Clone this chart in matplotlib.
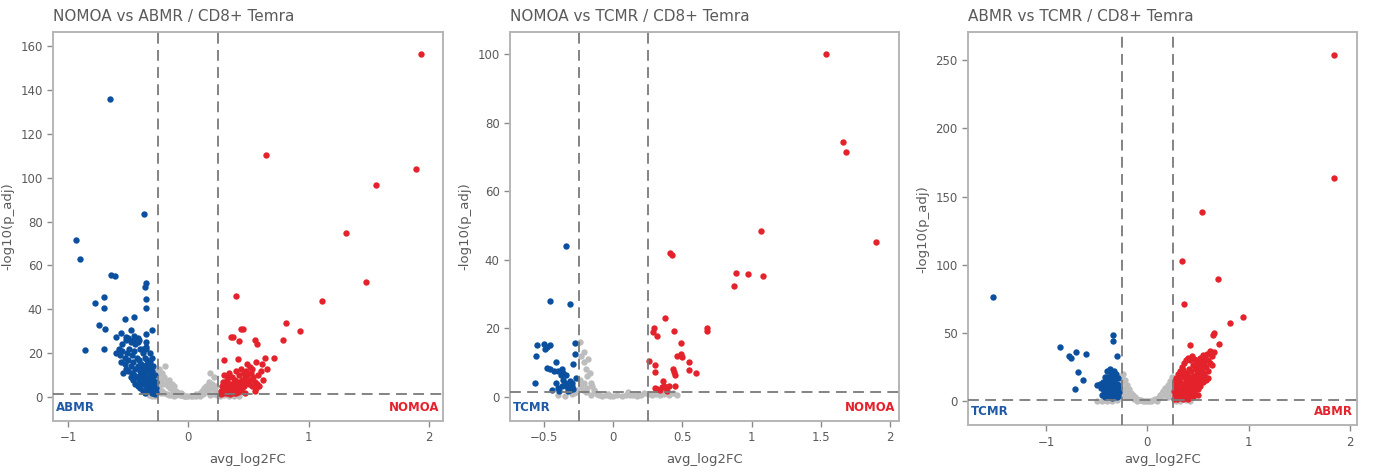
import matplotlib
matplotlib.use("Agg")
import matplotlib.pyplot as plt
from matplotlib.ticker import FuncFormatter

#====================================================================================================
# (avg_log2FC, -log10(p_adj)) per gene, split by group

# NOMOA vs ABMR
abmr_down = [(-0.65, 136), (-0.37, 83.4), (-0.93, 71.6), (-0.90, 63), (-0.64, 55.5), (-0.61, 55),
             (-0.78, 42.7), (-0.70, 45.7), (-0.70, 40.5), (-0.74, 33), (-0.69, 31), (-0.86, 21.5),
             (-0.70, 22), (-0.35, 52), (-0.36, 50.3), (-0.35, 44.8), (-0.35, 40.4), (-0.35, 28.9),
             (-0.30, 30.5), (-0.45, 36.6), (-0.53, 35.6), (-0.56, 29), (-0.60, 27.5), (-0.48, 30.5),
             (-0.52, 27.5), (-0.44, 27), (-0.41, 26), (-0.35, 25), (-0.30, 18), (-0.35, 23),
             (-0.58, 22), (-0.55, 24), (-0.52, 26), (-0.50, 27), (-0.48, 25), (-0.46, 26), (-0.44, 24),
             (-0.42, 25), (-0.40, 22), (-0.38, 20), (-0.36, 18), (-0.34, 17), (-0.32, 16), (-0.60, 20),
             (-0.57, 19), (-0.55, 21), (-0.53, 18), (-0.51, 20), (-0.49, 22), (-0.47, 19), (-0.45, 21),
             (-0.43, 18), (-0.41, 17), (-0.39, 15), (-0.37, 14), (-0.35, 13), (-0.33, 12), (-0.31, 11),
             (-0.29, 10), (-0.56, 16), (-0.53, 15), (-0.50, 17), (-0.48, 14), (-0.46, 16), (-0.44, 13),
             (-0.42, 14), (-0.40, 12), (-0.38, 11), (-0.36, 10), (-0.34, 9), (-0.32, 8), (-0.30, 7),
             (-0.28, 6), (-0.27, 4), (-0.50, 12), (-0.47, 11), (-0.45, 10), (-0.43, 9), (-0.41, 8),
             (-0.39, 7), (-0.37, 6), (-0.35, 5), (-0.33, 4), (-0.31, 3), (-0.29, 2), (-0.28, 1.5),
             (-0.44, 6), (-0.42, 5), (-0.40, 4), (-0.38, 3), (-0.36, 2), (-0.34, 3), (-0.32, 5),
             (-0.30, 4), (-0.28, 3), (-0.46, 8), (-0.48, 9), (-0.52, 13), (-0.54, 11), (-0.40, 10),
             (-0.36, 8), (-0.33, 7), (-0.31, 6), (-0.29, 8), (-0.27, 7), (-0.28, 10), (-0.30, 12),
             (-0.32, 14), (-0.34, 15), (-0.29, 14), (-0.31, 9), (-0.45, 28), (-0.42, 27), (-0.38, 22),
             (-0.32, 20), (-0.35, 22), (-0.27, 2.5), (-0.30, 1.8), (-0.39, 13), (-0.37, 9)]
abmr_up = [(1.93, 156.2), (1.89, 103.8), (0.647, 110.2), (1.558, 96.9), (1.314, 75), (1.475, 52.6),
           (1.108, 43.9), (0.392, 46), (0.815, 33.7), (0.925, 30.2), (0.44, 31), (0.455, 31),
           (0.79, 26), (0.355, 27.5), (0.37, 27.5), (0.42, 25.5), (0.555, 26), (0.57, 24),
           (0.30, 17), (0.41, 17.5), (0.64, 18), (0.71, 18), (0.65, 12.7), (0.61, 15.3), (0.56, 16),
           (0.49, 15), (0.51, 13.5), (0.27, 3), (0.28, 5), (0.29, 2), (0.30, 4), (0.31, 6), (0.32, 3),
           (0.33, 2), (0.34, 5), (0.35, 4), (0.36, 3), (0.37, 6), (0.38, 2), (0.39, 4), (0.40, 5),
           (0.41, 3), (0.42, 7), (0.43, 4), (0.44, 6), (0.45, 8), (0.46, 5), (0.47, 9), (0.48, 7),
           (0.49, 10), (0.50, 6), (0.51, 8), (0.52, 11), (0.53, 5), (0.54, 9), (0.55, 7), (0.56, 4),
           (0.57, 6), (0.58, 10), (0.30, 10), (0.32, 8), (0.34, 11), (0.36, 9), (0.38, 7), (0.40, 12),
           (0.42, 10), (0.44, 13), (0.46, 11), (0.48, 12), (0.53, 13), (0.29, 7), (0.33, 9),
           (0.35, 6), (0.37, 3.5), (0.39, 8), (0.41, 2.5), (0.43, 3), (0.45, 4), (0.47, 2),
           (0.27, 1.5), (0.31, 1.8), (0.35, 1.6), (0.40, 1.7), (0.55, 3), (0.59, 5), (0.62, 8),
           (0.60, 12)]
abmr_ns = [(-0.26, 12), (-0.25, 10), (-0.24, 13), (-0.23, 8), (-0.22, 11), (-0.21, 6), (-0.20, 9),
           (-0.19, 14), (-0.18, 7), (-0.17, 5), (-0.16, 8), (-0.15, 4), (-0.14, 6), (-0.13, 3),
           (-0.12, 5), (-0.11, 2), (-0.10, 3), (-0.09, 1.5), (-0.08, 2), (-0.07, 1), (-0.06, 0.8),
           (-0.05, 1.2), (-0.04, 0.5), (-0.03, 0.6), (-0.02, 0.3), (0.0, 0.4), (0.02, 0.5),
           (0.04, 0.3), (0.06, 0.7), (0.08, 1), (0.10, 2), (0.11, 3), (0.12, 1.5), (0.13, 4),
           (0.14, 2.5), (0.15, 5), (0.16, 3), (0.17, 7), (0.18, 11), (0.19, 4), (0.20, 6), (0.21, 9),
           (0.22, 3), (0.23, 5), (0.24, 2), (-0.24, 4), (-0.22, 3), (-0.20, 2), (-0.18, 1.5),
           (-0.16, 1), (-0.14, 0.8), (-0.12, 0.6), (-0.25, 6), (-0.23, 2), (0.26, 0.5), (0.30, 0.8),
           (0.34, 0.4), (0.38, 0.6), (0.42, 0.3), (-0.30, 0.5), (-0.33, 0.8), (-0.28, 0.3),
           (0.18, 1), (0.21, 1.5), (0.24, 0.8), (-0.06, 2), (0.06, 1.5), (0.10, 0.5), (-0.10, 0.8)]

# NOMOA vs TCMR
tcmr_down = [(-0.339, 44), (-0.455, 27.9), (-0.315, 27.2), (-0.274, 15.7), (-0.274, 12.6),
             (-0.55, 15), (-0.50, 15.5), (-0.48, 14.5), (-0.46, 15), (-0.49, 13.8), (-0.557, 11.9),
             (-0.565, 4), (-0.48, 8.5), (-0.46, 8), (-0.41, 10), (-0.40, 7.5), (-0.37, 8), (-0.36, 7),
             (-0.34, 6.3), (-0.38, 6.3), (-0.43, 7.5), (-0.29, 9.6), (-0.41, 4), (-0.44, 2),
             (-0.39, 1.6), (-0.37, 3), (-0.35, 4), (-0.34, 3), (-0.33, 2.5), (-0.32, 3.5), (-0.31, 4.5),
             (-0.30, 3), (-0.29, 2.2), (-0.30, 4), (-0.33, 1.8), (-0.27, 5.5), (-0.36, 5),
             (-0.40, 2.5), (-0.31, 2)]
tcmr_up = [(1.535, 100), (1.658, 74.3), (1.682, 71.6), (1.899, 45.3), (1.066, 48.4), (0.888, 36.2),
           (0.972, 35.8), (1.085, 35.3), (0.876, 32.3), (0.41, 42), (0.425, 41.5), (0.371, 22.9),
           (0.298, 20), (0.284, 18.8), (0.32, 17.8), (0.438, 19.3), (0.681, 20), (0.681, 19.2),
           (0.491, 15.8), (0.46, 12), (0.49, 12.4), (0.50, 11.6), (0.545, 10), (0.55, 7.8),
           (0.60, 6.8), (0.262, 10.3), (0.30, 9.3), (0.30, 7.3), (0.43, 8.2), (0.44, 7.2),
           (0.45, 6.3), (0.36, 4.6), (0.45, 3.2), (0.30, 2.5), (0.32, 2.2), (0.34, 2.0),
           (0.37, 3.1), (0.38, 2.5), (0.355, 2.8), (0.40, 3.0), (0.39, 1.6)]
tcmr_ns = [(-0.24, 16), (-0.23, 12), (-0.214, 13), (-0.21, 10), (-0.20, 8), (-0.18, 11), (-0.19, 6),
           (-0.17, 7), (-0.16, 4), (-0.15, 3), (-0.14, 2), (-0.13, 1.5), (-0.24, 5), (-0.23, 3),
           (-0.22, 2), (-0.21, 4), (-0.20, 1.5), (-0.19, 2.5), (-0.40, 0.5), (-0.35, 0.3),
           (-0.30, 0.8), (-0.28, 1.0), (-0.12, 0.8), (-0.10, 0.5), (-0.08, 0.3), (-0.05, 0.4),
           (-0.02, 0.2), (0.0, 0.3), (0.03, 0.5), (0.06, 0.2), (0.09, 0.6), (0.11, 1.5), (0.14, 0.4),
           (0.17, 0.3), (0.20, 0.5), (0.22, 1.2), (0.25, 0.7), (0.28, 0.5), (0.31, 0.9), (0.34, 0.4),
           (0.37, 0.8), (0.40, 0.6), (0.43, 1.1), (0.46, 0.5), (-0.26, 2), (-0.27, 1.5),
           (-0.04, 0.9), (0.12, 0.6), (-0.16, 0.6), (0.18, 0.9)]

# ABMR vs TCMR
abmr_tcmr_down = [(-1.52, 76.3), (-0.857, 40), (-0.77, 33), (-0.75, 31.7), (-0.70, 36.3),
                  (-0.60, 35), (-0.68, 21.5), (-0.63, 16), (-0.71, 8.8), (-0.343, 48.9),
                  (-0.343, 44.6), (-0.295, 33.3), (-0.50, 12.3), (-0.46, 10), (-0.44, 14), (-0.43, 8),
                  (-0.42, 18), (-0.41, 12), (-0.40, 22), (-0.40, 6), (-0.39, 16), (-0.38, 10),
                  (-0.37, 24), (-0.37, 4), (-0.36, 13), (-0.35, 19), (-0.35, 7), (-0.34, 11),
                  (-0.33, 15), (-0.33, 3), (-0.32, 9), (-0.31, 20), (-0.31, 6), (-0.30, 13),
                  (-0.29, 17), (-0.29, 4), (-0.28, 10), (-0.28, 7), (-0.45, 5), (-0.42, 3),
                  (-0.39, 9), (-0.36, 5), (-0.34, 17), (-0.32, 12), (-0.30, 8), (-0.38, 14),
                  (-0.41, 7), (-0.44, 11), (-0.47, 13), (-0.36, 21), (-0.33, 22), (-0.29, 12),
                  (-0.40, 18), (-0.35, 2.5), (-0.30, 3.5)]
abmr_tcmr_up = [(1.84, 253.4), (1.84, 163.3), (0.539, 138.3), (0.343, 103), (0.702, 89.4),
                (0.363, 71.5), (0.947, 61.5), (0.82, 57.6), (0.657, 50.1), (0.645, 48.5),
                (0.712, 42.4), (0.418, 41.7), (0.26, 2), (0.27, 5), (0.28, 8), (0.29, 3), (0.30, 10),
                (0.31, 6), (0.32, 14), (0.33, 9), (0.34, 4), (0.35, 12), (0.36, 18), (0.37, 7),
                (0.38, 15), (0.39, 20), (0.40, 11), (0.41, 24), (0.42, 16), (0.43, 22), (0.44, 13),
                (0.45, 27), (0.46, 19), (0.47, 25), (0.48, 30), (0.49, 21), (0.50, 28), (0.51, 24),
                (0.52, 32), (0.53, 26), (0.54, 30), (0.55, 34), (0.56, 28), (0.57, 31), (0.58, 25),
                (0.59, 35), (0.60, 30), (0.62, 37), (0.64, 33), (0.66, 36), (0.60, 22), (0.57, 18),
                (0.53, 16), (0.49, 14), (0.45, 11), (0.41, 8), (0.37, 5), (0.33, 2.5), (0.29, 1.5),
                (0.27, 12), (0.28, 17), (0.30, 20), (0.32, 22), (0.34, 25), (0.36, 28), (0.38, 30),
                (0.40, 32), (0.42, 30), (0.44, 33), (0.46, 31), (0.48, 24), (0.50, 20), (0.52, 18),
                (0.54, 22), (0.56, 20), (0.58, 16), (0.43, 6), (0.39, 3), (0.35, 2), (0.31, 15),
                (0.33, 19), (0.35, 23), (0.37, 21), (0.39, 17), (0.41, 14), (0.43, 18), (0.45, 15),
                (0.47, 12), (0.49, 10), (0.51, 13), (0.26, 8), (0.27, 15), (0.28, 11), (0.30, 5),
                (0.32, 7), (0.34, 11), (0.36, 13), (0.38, 9), (0.40, 6), (0.42, 4), (0.44, 9),
                (0.46, 7), (0.48, 17), (0.50, 9), (0.52, 11), (0.55, 14), (0.60, 17), (0.62, 28),
                (0.64, 27), (0.45, 3), (0.50, 5), (0.40, 2), (0.434, 9)]
abmr_tcmr_ns = [(-0.26, 18), (-0.25, 14), (-0.24, 20), (-0.23, 10), (-0.22, 16), (-0.21, 7),
                (-0.20, 12), (-0.19, 5), (-0.18, 9), (-0.17, 4), (-0.16, 6), (-0.15, 3), (-0.14, 4.5),
                (-0.13, 2), (-0.12, 3), (-0.11, 1.5), (-0.10, 2), (-0.08, 1), (-0.06, 0.8),
                (-0.04, 0.5), (-0.02, 0.6), (0.0, 0.4), (0.02, 0.5), (0.04, 0.7), (0.06, 1),
                (0.08, 1.5), (0.10, 2), (0.12, 3), (0.13, 5), (0.14, 4), (0.15, 6), (0.16, 8),
                (0.17, 5), (0.18, 10), (0.19, 7), (0.20, 12), (0.21, 9), (0.22, 15), (0.23, 11),
                (0.24, 18), (0.24, 6), (0.22, 4), (0.20, 3), (-0.24, 6), (-0.22, 4), (-0.20, 3),
                (-0.27, 4), (-0.30, 0.8), (-0.35, 0.5), (-0.40, 0.6), (-0.45, 0.4), (-0.50, 0.3),
                (0.28, 0.6), (0.32, 0.4), (0.38, 0.8), (0.42, 0.5), (0.10, 0.5), (-0.10, 0.7)]

titles = ["NOMOA vs ABMR / CD8+ Temra", "NOMOA vs TCMR / CD8+ Temra", "ABMR vs TCMR / CD8+ Temra"]
left_groups = ["ABMR", "TCMR", "TCMR"]
right_groups = ["NOMOA", "NOMOA", "ABMR"]
x_ticks = [[-1, 0, 1, 2], [-0.5, 0, 0.5, 1, 1.5, 2], [-1, 0, 1, 2]]
y_ticks = [[0, 20, 40, 60, 80, 100, 120, 140, 160], [0, 20, 40, 60, 80, 100], [0, 50, 100, 150, 200, 250]]

fc_cut = 0.25
p_cut = 1.3

C_BLUE = "#0b4f9f"
C_RED = "#e4222b"
C_GRAY = "#bdbdbd"
C_TEXT = "#5a5a5a"

#====================================================================================================

def drawPanel(axis, down, up, ns, title, leftName, rightName, xt, yt, xlim, ylim, xpad = 6):

    for pts, col, z in [(ns, C_GRAY, 1), (down, C_BLUE, 2), (up, C_RED, 2)]:
        xs, ys = zip(*pts)
        axis.scatter(xs, ys, s = 21, c = col, linewidths = 0, zorder = z)

    dash = (0, (6, 3.5))
    axis.axvline(-fc_cut, color = "#7a7a7a", lw = 1.3, linestyle = dash, zorder = 3)
    axis.axvline(fc_cut, color = "#7a7a7a", lw = 1.3, linestyle = dash, zorder = 3)
    axis.axhline(p_cut, color = "#7a7a7a", lw = 1.3, linestyle = dash, zorder = 3)

    axis.set_xlim(*xlim)
    axis.set_ylim(*ylim)
    axis.set_xticks(xt)
    axis.set_yticks(yt)
    axis.xaxis.set_major_formatter(FuncFormatter(lambda v, p: ("%g" % v).replace("-", "\u2212")))
    axis.yaxis.set_major_formatter(FuncFormatter(lambda v, p: ("%g" % v).replace("-", "\u2212")))
    axis.tick_params(direction = "out", length = 4, width = 1, color = "#8a8a8a",
                     labelsize = 8.5, labelcolor = C_TEXT)
    for sp in axis.spines.values():
        sp.set_color("#b5b5b5")
        sp.set_linewidth(1.4)

    axis.set_xlabel("avg_log2FC", fontsize = 9.5, color = C_TEXT, labelpad = xpad)
    axis.set_ylabel("-log10(p_adj)", fontsize = 9.5, color = C_TEXT, labelpad = 4)
    axis.set_title(title, loc = "left", fontsize = 11, color = C_TEXT, pad = 8)

    axis.text(0.008, 0.018, leftName, transform = axis.transAxes, color = "#1f5aa6",
              fontsize = 8.5, fontweight = "bold", ha = "left", va = "bottom")
    axis.text(0.99, 0.018, rightName, transform = axis.transAxes, color = C_RED,
              fontsize = 8.5, fontweight = "bold", ha = "right", va = "bottom")

#====================================================================================================

def main():

    fig = plt.figure(figsize = (13.73, 4.72), dpi = 100)

    ax1 = fig.add_axes([0.0386, 0.108, 0.2841, 0.824])
    ax2 = fig.add_axes([0.3715, 0.108, 0.2833, 0.824])
    ax3 = fig.add_axes([0.7050, 0.099, 0.2833, 0.833])

    drawPanel(ax1, abmr_down, abmr_up, abmr_ns, titles[0], left_groups[0], right_groups[0],
              x_ticks[0], y_ticks[0], (-1.125, 2.117), (-10.9, 166.4))
    drawPanel(ax2, tcmr_down, tcmr_up, tcmr_ns, titles[1], left_groups[1], right_groups[1],
              x_ticks[1], y_ticks[1], (-0.745, 2.065), (-7.1, 106.5))
    drawPanel(ax3, abmr_tcmr_down, abmr_tcmr_up, abmr_tcmr_ns, titles[2], left_groups[2], right_groups[2],
              x_ticks[2], y_ticks[2], (-1.77, 2.07), (-17.4, 270.3), xpad = 3)

    fig.savefig("out.png", dpi = 100)

#====================================================================================================

if __name__ == "__main__":
    main()
